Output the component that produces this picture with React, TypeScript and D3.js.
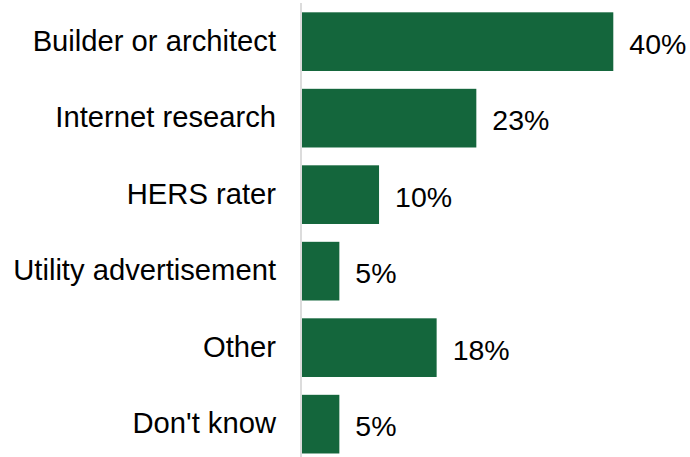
import React from "react";
import * as d3 from "d3";

const categories = [
  "Builder or architect",
  "Internet research",
  "HERS rater",
  "Utility advertisement",
  "Other",
  "Don't know",
];
const values = [40, 22.4, 9.9, 4.8, 17.3, 4.8];
const valueLabels = ["40%", "23%", "10%", "5%", "18%", "5%"];

const W = 690;
const H = 457;

export default function App() {
  const x = d3.scaleLinear().domain([0, 40]).range([302, 613.3]);
  const y = d3
    .scaleBand<string>()
    .domain(categories)
    .range([3.4, 462.4])
    .paddingInner(0.233)
    .paddingOuter(0.1165);
  const font = "'Liberation Sans', Arial, sans-serif";
  return (
    <svg
      width={W}
      height={H}
      style={{ position: "absolute", left: 0, top: 0, background: "#fff" }}
      fontFamily={font}
    >
      <line x1={301} x2={301} y1={3} y2={H} stroke="#d0d0d0" strokeWidth={1.5} />
      {categories.map((c, i) => {
        const yy = y(c)!;
        const bw = y.bandwidth();
        const cy = yy + bw / 2;
        return (
          <g key={c}>
            <rect
              x={x(0)}
              y={yy}
              width={x(values[i]) - x(0)}
              height={bw}
              fill="#14663c"
            />
            <text
              x={276}
              y={cy + 9}
              textAnchor="end"
              fontSize={29.2}
              fill="#000"
            >
              {c}
            </text>
            <text x={x(values[i]) + 16} y={cy + 12} fontSize={28.5} fill="#000">
              {valueLabels[i]}
            </text>
          </g>
        );
      })}
    </svg>
  );
}
